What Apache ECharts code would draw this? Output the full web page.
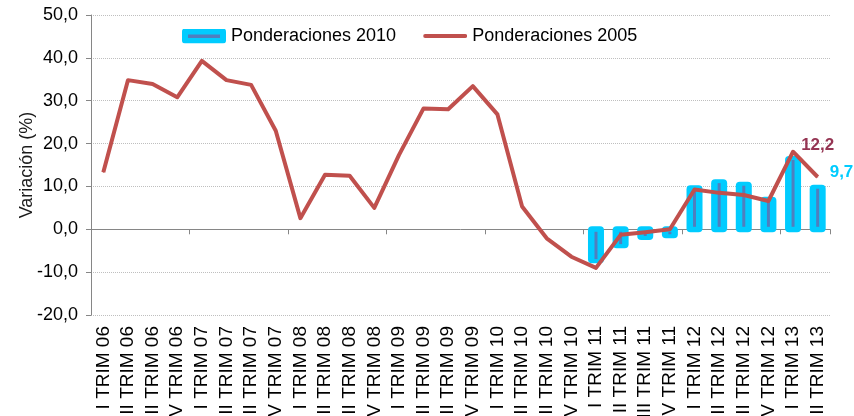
<!DOCTYPE html>
<html>
<head>
<meta charset="utf-8">
<script src="https://cdn.jsdelivr.net/npm/echarts@6/dist/echarts.min.js"></script>
<style>
html,body{margin:0;padding:0;background:#fff;}
#c{width:854px;height:416px;}
</style>
</head>
<body>
<div id="c"></div>
<script>
const categories = [
  'I TRIM 06','II TRIM 06','III TRIM 06','IV TRIM 06',
  'I TRIM 07','II TRIM 07','III TRIM 07','IV TRIM 07',
  'I TRIM 08','II TRIM 08','III TRIM 08','IV TRIM 08',
  'I TRIM 09','II TRIM 09','III TRIM 09','IV TRIM 09',
  'I TRIM 10','II TRIM 10','III TRIM 10','IV TRIM 10',
  'I TRIM 11','II TRIM 11','III TRIM 11','IV TRIM 11',
  'I TRIM 12','II TRIM 12','III TRIM 12','IV TRIM 12',
  'I TRIM 13','II TRIM 13'
];
const pond2005 = [13.3, 34.8, 33.9, 30.8, 39.3, 34.8, 33.7, 23.0,
  2.6, 12.7, 12.5, 5.0, 17.3, 28.2, 28.0, 33.4,
  26.8, 5.3, -2.1, -6.4, -9.0, -1.3, -0.7, 0.0,
  9.3, 8.5, 8.0, 6.6, 18.1, 12.2];
const pond2010 = [null, null, null, null, null, null, null, null,
  null, null, null, null, null, null, null, null,
  null, null, null, null, -7.2, -3.7, -1.8, -1.4,
  9.6, 11.0, 10.4, 6.9, 16.4, 9.7];
const yTicks = { min: -20, max: 50, interval: 10 };
const seriesNames = ['Ponderaciones 2010', 'Ponderaciones 2005'];

const FONT = "'Liberation Sans', Arial, sans-serif";
const CYAN = '#00CCFF';
const INNER = '#4F7FBF';
const RED = '#C0504D';

function svgIcon(svg) {
  return 'image://data:image/svg+xml;charset=utf-8,' + encodeURIComponent(svg);
}
const icon2010 = svgIcon('<svg xmlns="http://www.w3.org/2000/svg" width="44" height="15" viewBox="0 0 44 15">' +
  '<rect x="0" y="0" width="44" height="15" rx="3" ry="3" fill="' + CYAN + '"/>' +
  '<rect x="6" y="6" width="32" height="3.5" fill="' + INNER + '"/></svg>');
const icon2005 = svgIcon('<svg xmlns="http://www.w3.org/2000/svg" width="44" height="15" viewBox="0 0 44 15">' +
  '<line x1="2" y1="7.5" x2="42" y2="7.5" stroke="' + RED + '" stroke-width="4" stroke-linecap="round"/></svg>');

const lastIdx = categories.length - 1;
const fmt = v => v.toFixed(1).replace('.', ',');

const barData = [];
pond2010.forEach((v, i) => { if (v !== null) barData.push([i, v]); });

const lineData = pond2005.map((v, i) => {
  if (i === lastIdx) {
    return {
      value: v,
      label: {
        show: true, position: 'top', distance: 23,
        formatter: p => fmt(p.value), color: '#953553', fontWeight: 'bold', fontSize: 17, fontFamily: FONT
      }
    };
  }
  return v;
});

function renderGlowBar(params, api) {
  const idx = api.value(0);
  const v = api.value(1);
  if (v === null || isNaN(v)) return;
  const p0 = api.coord([idx, 0]);
  const p1 = api.coord([idx, v]);
  const cx = p0[0];
  const top = Math.min(p0[1], p1[1]);
  const bot = Math.max(p0[1], p1[1]);
  const children = [{
    type: 'rect',
    shape: { x: cx - 8, y: top - 3, width: 16, height: bot - top + 6, r: 4 },
    style: { fill: CYAN }
  }];
  let iTop, iBot;
  if (v >= 0) { iTop = p1[1] + 1; iBot = p0[1] - 2.5; }
  else { iTop = p0[1] + 2.5; iBot = p1[1] - 1; }
  if (iBot - iTop > 0.5) {
    children.push({
      type: 'rect',
      shape: { x: cx - 1.5, y: iTop, width: 3, height: iBot - iTop },
      style: { fill: INNER }
    });
  }
  if (idx === lastIdx) {
    children.push({
      type: 'text',
      style: {
        text: fmt(v), x: cx + 12, y: p1[1] - 15,
        fill: CYAN, font: 'bold 17px ' + FONT,
        align: 'left', verticalAlign: 'middle'
      }
    });
  }
  return { type: 'group', children: children };
}

const chart = echarts.init(document.getElementById('c'), null, { renderer: 'canvas' });
chart.setOption({
  animation: false,
  backgroundColor: '#ffffff',
  textStyle: { fontFamily: FONT },
  grid: { left: 91, right: 24, top: 15, bottom: 101, containLabel: false, outerBoundsMode: 'none' },
  legend: {
    left: 182, top: 27, padding: 0,
    itemWidth: 44, itemHeight: 15, itemGap: 27,
    textStyle: { fontSize: 18, color: '#000', fontFamily: FONT },
    data: [
      { name: seriesNames[0], icon: icon2010 },
      { name: seriesNames[1], icon: icon2005 }
    ]
  },
  xAxis: [
    {
      type: 'category', data: categories, position: 'bottom',
      axisLine: { show: true, onZero: true, lineStyle: { color: '#868686', width: 1 } },
      axisTick: { show: true, length: 5, lineStyle: { color: '#868686' } },
      axisLabel: { show: false },
      splitLine: { show: false }
    },
    {
      type: 'category', data: categories, position: 'bottom',
      axisLine: { show: false, onZero: false },
      axisTick: { show: false },
      axisLabel: { show: true, rotate: 90, interval: 0, margin: 11, fontSize: 19, color: '#000', fontFamily: FONT },
      splitLine: { show: false }
    }
  ],
  yAxis: {
    type: 'value', min: yTicks.min, max: yTicks.max, interval: yTicks.interval,
    name: 'Variación (%)', nameLocation: 'middle', nameGap: 55, nameRotate: 90,
    nameMoveOverlap: false,
    nameTextStyle: { fontSize: 18, color: '#1a1a1a', fontFamily: FONT },
    axisLine: { show: true, lineStyle: { color: '#868686', width: 1 } },
    axisTick: { show: true, length: 5, lineStyle: { color: '#868686' } },
    axisLabel: { fontSize: 18, color: '#000', margin: 13, formatter: v => fmt(v), fontFamily: FONT },
    splitLine: { show: true, lineStyle: { type: 'dotted', color: '#BFBFBF', width: 1 } }
  },
  series: [
    {
      name: seriesNames[0], type: 'custom', xAxisIndex: 0, yAxisIndex: 0,
      data: barData, renderItem: renderGlowBar, z: 2,
      encode: { x: 0, y: 1 },
      itemStyle: { color: CYAN }
    },
    {
      name: seriesNames[1], type: 'line', xAxisIndex: 0, data: lineData,
      z: 4, symbol: 'circle', symbolSize: 1, showSymbol: true,
      itemStyle: { color: RED },
      lineStyle: { color: RED, width: 4, join: 'round' }
    }
  ]
});
</script>
</body>
</html>
